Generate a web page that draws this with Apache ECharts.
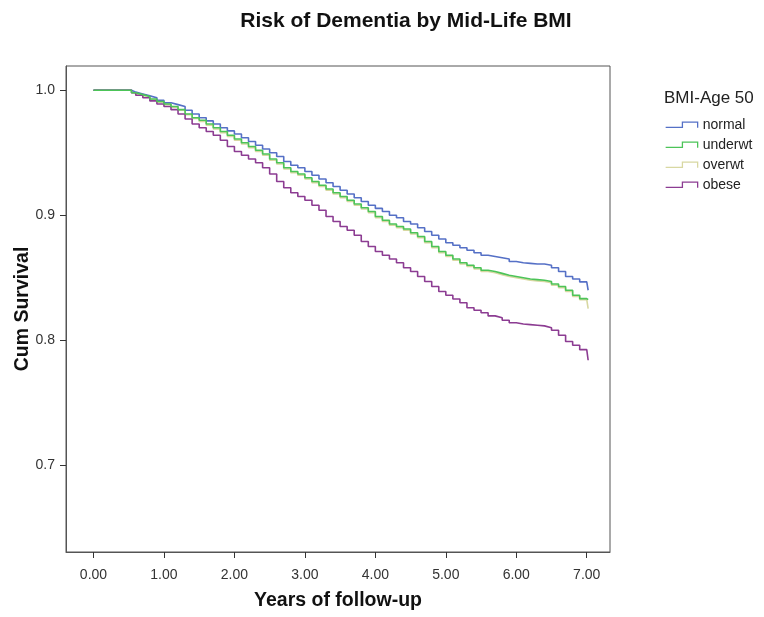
<!DOCTYPE html>
<html>
<head>
<meta charset="utf-8">
<title>Risk of Dementia by Mid-Life BMI</title>
<script src="https://cdn.jsdelivr.net/npm/echarts@6.0.0/dist/echarts.min.js"></script>
<style>
    html, body { margin: 0; padding: 0; background: #fff; }
    #chart { width: 764px; height: 617px; }
</style>
</head>
<body>
<div id="chart"></div>
<script>
    // follow-up times (years), shared by the four curves
    const years = [0, 0.54, 0.6, 0.7, 0.8, 0.9, 1.0, 1.1, 1.2, 1.3, 1.4, 1.5, 1.6, 1.7, 1.8, 1.9,
        2.0, 2.1, 2.2, 2.3, 2.4, 2.5, 2.6, 2.7, 2.8, 2.9, 3.0, 3.1, 3.2, 3.3, 3.4, 3.5, 3.6, 3.7, 3.8, 3.9,
        4.0, 4.1, 4.2, 4.3, 4.4, 4.5, 4.6, 4.7, 4.8, 4.9, 5.0, 5.1, 5.2, 5.3, 5.4, 5.5, 5.6, 5.7, 5.8, 5.9,
        6.0, 6.1, 6.2, 6.3, 6.4, 6.5, 6.6, 6.7, 6.8, 6.9, 7.0, 7.02];

    const normalSurv = [1.0, 0.9985, 0.997, 0.9955, 0.994, 0.992, 0.990, 0.9885, 0.987, 0.984, 0.981, 0.978, 0.9755, 0.973, 0.970, 0.9675,
        0.965, 0.962, 0.959, 0.956, 0.953, 0.950, 0.947, 0.943, 0.940, 0.938, 0.935, 0.932, 0.929, 0.926, 0.923, 0.920, 0.917, 0.914, 0.911, 0.908,
        0.9055, 0.903, 0.900, 0.898, 0.895, 0.893, 0.890, 0.887, 0.884, 0.881, 0.878, 0.876, 0.874, 0.872, 0.870, 0.868, 0.867, 0.866, 0.865, 0.863,
        0.862, 0.8615, 0.861, 0.861, 0.860, 0.858, 0.855, 0.851, 0.849, 0.8467, 0.8467, 0.840];

    const underwtSurv = [1.0, 0.998, 0.9965, 0.995, 0.993, 0.991, 0.989, 0.987, 0.9845, 0.981, 0.978, 0.976, 0.973, 0.970, 0.967, 0.964,
        0.961, 0.958, 0.955, 0.952, 0.949, 0.945, 0.942, 0.938, 0.935, 0.933, 0.930, 0.927, 0.924, 0.921, 0.918, 0.915, 0.912, 0.909, 0.906, 0.903,
        0.899, 0.896, 0.893, 0.891, 0.889, 0.886, 0.883, 0.879, 0.875, 0.871, 0.868, 0.865, 0.862, 0.860, 0.858, 0.856, 0.855, 0.8535, 0.852, 0.851,
        0.850, 0.849, 0.8485, 0.848, 0.847, 0.845, 0.843, 0.840, 0.836, 0.8333, 0.8333, 0.8325];

    const overwtSurv = [1.0, 0.998, 0.9962, 0.9945, 0.9925, 0.9905, 0.9885, 0.9865, 0.984, 0.9805, 0.9775, 0.975, 0.972, 0.969, 0.966, 0.963,
        0.960, 0.957, 0.954, 0.951, 0.948, 0.944, 0.941, 0.937, 0.934, 0.932, 0.929, 0.926, 0.923, 0.920, 0.917, 0.914, 0.911, 0.908, 0.905, 0.902,
        0.898, 0.895, 0.892, 0.890, 0.888, 0.885, 0.882, 0.878, 0.874, 0.870, 0.867, 0.864, 0.861, 0.859, 0.857, 0.855, 0.854, 0.8525, 0.851, 0.850,
        0.849, 0.848, 0.8475, 0.847, 0.846, 0.844, 0.842, 0.839, 0.835, 0.8325, 0.8325, 0.8253];

    const obeseSurv = [1.0, 0.998, 0.996, 0.994, 0.9915, 0.989, 0.987, 0.9845, 0.981, 0.977, 0.973, 0.970, 0.967, 0.964, 0.960, 0.955,
        0.951, 0.948, 0.945, 0.942, 0.938, 0.933, 0.927, 0.922, 0.918, 0.915, 0.912, 0.908, 0.904, 0.899, 0.895, 0.891, 0.888, 0.884, 0.879, 0.875,
        0.871, 0.868, 0.865, 0.862, 0.858, 0.855, 0.851, 0.847, 0.843, 0.839, 0.836, 0.833, 0.830, 0.826, 0.824, 0.822, 0.8195, 0.818, 0.816, 0.814,
        0.813, 0.8125, 0.812, 0.8115, 0.810, 0.808, 0.804, 0.799, 0.796, 0.7925, 0.7925, 0.784];

    const groupNames = ['normal', 'underwt', 'overwt', 'obese'];
    const xTicks = [0, 1, 2, 3, 4, 5, 6, 7];
    const yTicks = [0.7, 0.8, 0.9, 1.0];

    const colors = ['#5570c6', '#4cc458', '#d8d8a2', '#8c3c92'];
    // step-shaped legend mark, like the SPSS one (32 x 6), drawn as a stroke
    const stepIcon = 'path://M0,5.5L16.5,5.5L16.5,0.5L31.5,0.5L31.5,6';
    const font = 'Liberation Sans, Arial, sans-serif';

    function pairs(vals) {
        return years.map((t, i) => [t, vals[i]]);
    }

    const allSurv = [normalSurv, underwtSurv, overwtSurv, obeseSurv];

    let option = {
        animation: false,
        color: colors,
        title: [{
            text: 'Risk of Dementia by Mid-Life BMI',
            left: 401,
            top: 6,
            textAlign: 'center',
            textStyle: { fontFamily: font, fontSize: 21, fontWeight: 'bold', color: '#111' }
        }, {
            text: 'BMI-Age 50',
            left: 659,
            top: 85,
            textStyle: { fontFamily: font, fontSize: 17, fontWeight: 'normal', color: '#222' }
        }],
        legend: {
            orient: 'vertical',
            left: 665,
            top: 118,
            padding: 0,
            itemWidth: 32,
            itemHeight: 6,
            itemGap: 6,
            icon: stepIcon,
            textStyle: { fontFamily: font, fontSize: 14, color: '#222' },
            data: groupNames.map((name, i) => ({
                name: name,
                itemStyle: { color: 'transparent', borderColor: colors[i], borderWidth: 1.3 }
            }))
        },
        grid: {
            left: 66,
            right: 154,
            top: 66,
            bottom: 65,
            outerBoundsMode: 'none',
            containLabel: false,
            show: true,
            borderColor: '#555',
            borderWidth: 1
        },
        xAxis: {
            type: 'value',
            min: -0.39,
            max: 7.33,
            name: 'Years of follow-up',
            nameLocation: 'middle',
            nameGap: 39,
            nameTextStyle: { fontFamily: font, fontSize: 19.5, fontWeight: 'bold', color: '#111' },
            splitLine: { show: false },
            axisLine: { show: true, onZero: false, lineStyle: { color: '#555' } },
            axisTick: { show: true, length: 6, customValues: xTicks, lineStyle: { color: '#333' } },
            axisLabel: {
                customValues: xTicks,
                margin: 16,
                fontFamily: font,
                fontSize: 14,
                color: '#333',
                formatter: v => v.toFixed(2)
            }
        },
        yAxis: {
            type: 'value',
            min: 0.6306,
            max: 1.0194,
            name: 'Cum Survival',
            nameLocation: 'middle',
            nameGap: 33,
            nameMoveOverlap: false,
            nameTextStyle: { fontFamily: font, fontSize: 19.5, fontWeight: 'bold', color: '#111' },
            splitLine: { show: false },
            axisLine: { show: true, onZero: false, lineStyle: { color: '#555' } },
            axisTick: { show: true, length: 6, customValues: yTicks, lineStyle: { color: '#333' } },
            axisLabel: {
                customValues: yTicks,
                margin: 11,
                fontFamily: font,
                fontSize: 14,
                color: '#333',
                formatter: v => v.toFixed(1)
            }
        },
        series: groupNames.map((name, i) => ({
            name: name,
            type: 'line',
            step: 'end',
            symbol: 'none',
            z: name === 'underwt' ? 4 : (name === 'overwt' ? 2 : 3),
            lineStyle: { width: 1.6, color: colors[i] },
            data: pairs(allSurv[i])
        }))
    };

    const myChart = echarts.init(document.getElementById('chart'));
    myChart.setOption(option);
</script>
</body>
</html>
